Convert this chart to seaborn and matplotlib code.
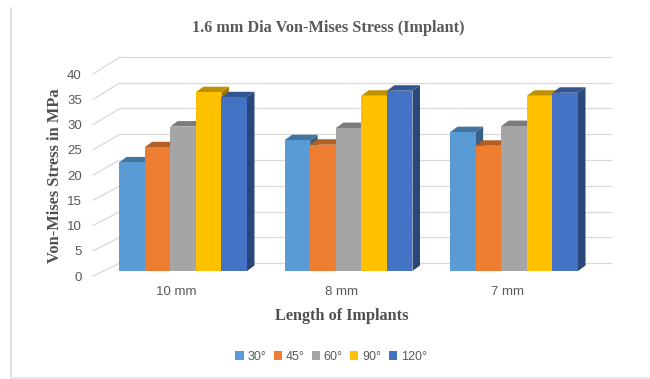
import numpy as np
import pandas as pd
import matplotlib
matplotlib.use("Agg")
import matplotlib.pyplot as plt
import matplotlib.colors as mcolors
from matplotlib.patches import Polygon, Patch
from matplotlib.lines import Line2D
from matplotlib.transforms import IdentityTransform, ScaledTranslation
import seaborn as sns

# ---- data -------------------------------------------------------------
lengths = ["10 mm", "8 mm", "7 mm"]
angles = ["30°", "45°", "60°", "90°", "120°"]
stress_30 = [21.5, 25.9, 27.5]
stress_45 = [24.5, 25.0, 24.8]
stress_60 = [28.6, 28.3, 28.7]
stress_90 = [35.4, 34.7, 34.7]
stress_120 = [34.4, 35.7, 35.3]
y_ticks = [0, 5, 10, 15, 20, 25, 30, 35, 40]

colors = ["#5B9BD5", "#ED7D31", "#A5A5A5", "#FFC000", "#4472C4"]

series = [stress_30, stress_45, stress_60, stress_90, stress_120]
df = pd.DataFrame({
    "Length": np.repeat([lengths], len(angles), axis=0).ravel(),
    "Angle": np.repeat(angles, len(lengths)),
    "Stress": np.concatenate(series),
})

sns.set_theme(style="white")
plt.rcParams["font.family"] = ["Liberation Sans", "DejaVu Sans"]

W, H, DPI = 650, 379, 100
fig = plt.figure(figsize=(W / DPI, H / DPI), dpi=DPI)
ax = fig.add_axes([93 / W, 100.4 / H, 519 / W, 229.8 / H])

sns.barplot(data=df, x="Length", y="Stress", hue="Angle", order=lengths,
            hue_order=angles, palette=colors, saturation=1, width=0.773,
            legend=False, ax=ax)

ax.set_xlim(-0.544, 2.592)
ax.set_ylim(-1.5, 44)
for s in ax.spines.values():
    s.set_visible(False)
ax.set_xlabel("")
ax.set_ylabel("")

# back wall gridlines with perspective leaders to the floor edge
back_left = -0.381
for v in y_ticks:
    yb = 1.58 + 1.02 * v
    ax.plot([back_left, 2.592], [yb, yb], color="#D9D9D9", lw=0.9,
            zorder=1, clip_on=False, solid_capstyle="butt")
    ax.plot([-0.544, back_left], [v - 1.0, yb], color="#D9D9D9", lw=0.9,
            zorder=1, clip_on=False)

# ticks
ax.set_yticks(y_ticks)
ax.set_yticklabels([str(t) for t in y_ticks])
ax.tick_params(axis="y", length=0, pad=8, labelsize=9.5, labelcolor="#595959")
ax.tick_params(axis="x", length=0, pad=5, labelsize=9.5, labelcolor="#595959")
shift_y = ScaledTranslation(0, -5 / DPI, fig.dpi_scale_trans)
for lab in ax.get_yticklabels():
    lab.set_transform(lab.get_transform() + shift_y)
shift_x = ScaledTranslation(-7 / DPI, 0, fig.dpi_scale_trans)
for lab in ax.get_xticklabels():
    lab.set_transform(lab.get_transform() + shift_x)


def shade(c, f):
    r, g, b = mcolors.to_rgb(c)
    return (r * f, g * f, b * f)


# extrude each bar into a box: side face, top face, then front face
fig.canvas.draw()
dx, dy = 7.5, 5.5
bars = sorted([p for p in ax.patches if p.get_height() > 0], key=lambda p: p.get_x())
for k, bar in enumerate(bars):
    fc = bar.get_facecolor()
    bar.set_edgecolor("none")
    x0, y0 = bar.get_x(), 0
    x1, y1 = bar.get_x() + bar.get_width(), bar.get_height()
    (px0, py0), (px1, py1) = ax.transData.transform([(x0, y0), (x1, y1)])
    z = 3 + 3 * k
    side = Polygon([(px1, py0), (px1 + dx, py0 + dy), (px1 + dx, py1 + dy), (px1, py1)],
                   closed=True, transform=IdentityTransform(),
                   facecolor=shade(fc, 0.62), edgecolor="none", zorder=z)
    top = Polygon([(px0, py1), (px1, py1), (px1 + dx, py1 + dy), (px0 + dx, py1 + dy)],
                  closed=True, transform=IdentityTransform(),
                  facecolor=shade(fc, 0.75), edgecolor="none", zorder=z + 1)
    ax.add_artist(side)
    ax.add_artist(top)
    bar.set_zorder(z + 2)

serif = ["Liberation Serif", "DejaVu Serif"]
fig.text(328 / W, 1 - 28 / H, "1.6 mm Dia Von-Mises Stress (Implant)",
         ha="center", va="center", fontsize=11.7, fontweight="bold",
         color="#595959", family=serif)
fig.text(55 / W, 1 - 176 / H, "Von-Mises Stress in MPa", rotation=90,
         ha="center", va="center", fontsize=11.8, fontweight="bold",
         color="#505050", family=serif)
fig.text(342 / W, 1 - 316 / H, "Length of Implants",
         ha="center", va="center", fontsize=11.7, fontweight="bold",
         color="#505050", family=serif)

handles = [Patch(facecolor=c, edgecolor="none") for c in colors]
fig.legend(handles, angles, loc="center", bbox_to_anchor=(331 / W, 1 - 357 / H),
           ncol=5, frameon=False, fontsize=9, labelcolor="#595959",
           handlelength=0.65, handleheight=0.65, handletextpad=0.3,
           columnspacing=0.6)

# chart frame edges
fig.add_artist(Line2D([11 / W, 11 / W], [1 / H, 1 - 8 / H], transform=fig.transFigure,
                      color="#D9D9D9", lw=1.2))
fig.add_artist(Line2D([11 / W, 1], [1.5 / H, 1.5 / H], transform=fig.transFigure,
                      color="#E3E3E3", lw=1.2))

fig.savefig("out.png", dpi=DPI)
